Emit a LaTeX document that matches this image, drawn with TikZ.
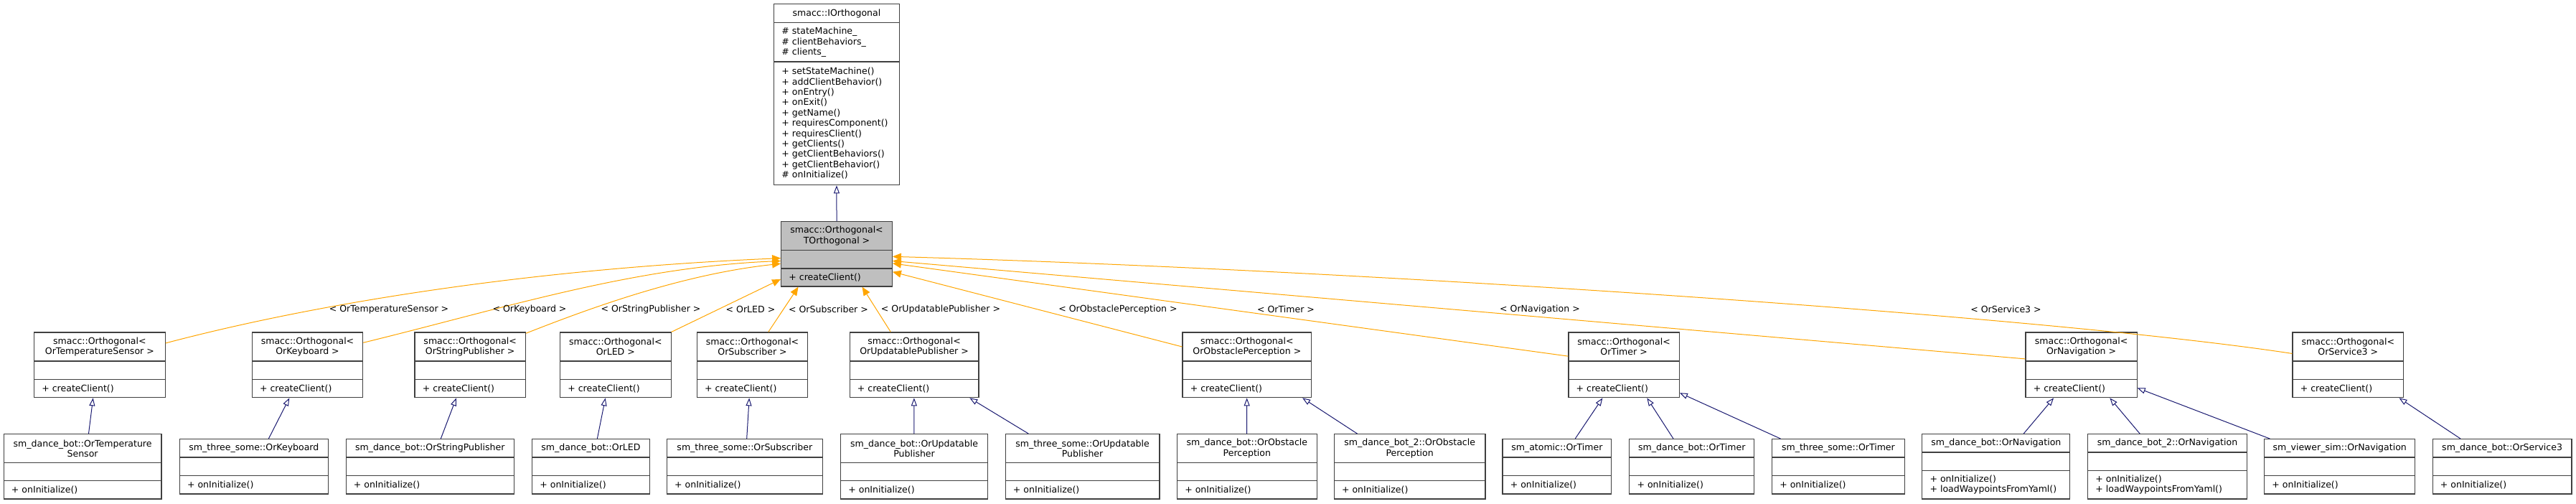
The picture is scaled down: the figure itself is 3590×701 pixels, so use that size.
\documentclass[tikz,border=0pt]{standalone}
\usepackage{fontspec}
\setmainfont{DejaVu Sans}
\usetikzlibrary{arrows.meta,fit,calc}

\definecolor{edgeorange}{RGB}{255,165,0}
\definecolor{inheritblue}{RGB}{25,25,112}
\definecolor{boxgray}{RGB}{64,64,64}
\definecolor{tfill}{RGB}{191,191,191}

% #1 name, #2 left, #3 right, #4 top, #5-#7 compartment heights, #8 title, #9 operations
\newcommand{\classbox}[9]{%
  \node[classnode, fit={(#2,#4) (#3,#4+#5+#6+#7)}] (#1) {};
  \draw[classline] (#2,#4+#5) -- (#3,#4+#5);
  \draw[classline] (#2,#4+#5+#6) -- (#3,#4+#5+#6);
  \node[classtext, align=center] (#1-t) at ({(#2+#3)/2},{#4+#5/2}) {#8};
  \node[classtext, align=left, anchor=west] (#1-o) at (#2+10.5,{#4+#5+#6+#7/2}) {#9};
}

\begin{document}
\begin{tikzpicture}[x=0.75pt,y=0.75pt,yscale=-1,xscale=1,
  classnode/.style={draw=boxgray, line width=0.9pt, inner sep=0pt},
  classline/.style={draw=boxgray, line width=0.9pt},
  classtext/.style={inner sep=0pt, font=\fontsize{9.4}{10.8}\selectfont},
  usage/.style={draw=edgeorange, line width=0.75pt, -{Triangle[length=9pt,width=7.5pt]}},
  inherit/.style={draw=inheritblue, line width=0.75pt, -{Triangle[open,length=8.25pt,width=6pt]}},
  edgelabel/.style={inner sep=0pt, font=\fontsize{9.4}{10.8}\selectfont}]
\useasboundingbox (0,0) rectangle (3590,701);

%Shape: base classes
\classbox{iorth}{1078.7}{1253.2}{5.7}{26}{54.3}{171.7}{smacc::IOrthogonal}{+ setStateMachine()\\ + addClientBehavior()\\ + onEntry()\\ + onExit()\\ + getName()\\ + requiresComponent()\\ + requiresClient()\\ + getClients()\\ + getClientBehaviors()\\ + getClientBehavior()\\ \# onInitialize()}
\node[classtext, align=left, anchor=west] (iorth-a) at (1089.2,58.85) {\# stateMachine\_\\ \# clientBehaviors\_\\ \# clients\_};
\fill[tfill] (1088.7,308.7) rectangle (1243.3,399);
\classbox{torth}{1088.7}{1243.3}{308.7}{40}{25.3}{25}{smacc::Orthogonal<\\ TOrthogonal >}{+ createClient()}

%Shape: template instances
\classbox{ots}{47.6}{230.2}{463}{40}{25.7}{25}{smacc::Orthogonal<\\ OrTemperatureSensor >}{+ createClient()}
\classbox{okb}{351.3}{505.7}{463}{40}{25.7}{25}{smacc::Orthogonal<\\ OrKeyboard >}{+ createClient()}
\classbox{osp}{578}{732.4}{463}{40}{25.7}{25}{smacc::Orthogonal<\\ OrStringPublisher >}{+ createClient()}
\classbox{oled}{780.6}{935.1}{463}{40}{25.7}{25}{smacc::Orthogonal<\\ OrLED >}{+ createClient()}
\classbox{osub}{971.3}{1125.7}{463}{40}{25.7}{25}{smacc::Orthogonal<\\ OrSubscriber >}{+ createClient()}
\classbox{oup}{1184.2}{1363.9}{463}{40}{25.7}{25}{smacc::Orthogonal<\\ OrUpdatablePublisher >}{+ createClient()}
\classbox{oop}{1648}{1827.7}{463}{40}{25.7}{25}{smacc::Orthogonal<\\ OrObstaclePerception >}{+ createClient()}
\classbox{otm}{2185.9}{2340.3}{463}{40}{25.7}{25}{smacc::Orthogonal<\\ OrTimer >}{+ createClient()}
\classbox{onv}{2823}{2978.1}{463}{40}{25.7}{25}{smacc::Orthogonal<\\ OrNavigation >}{+ createClient()}
\classbox{os3}{3195}{3349.5}{463}{40}{25.7}{25}{smacc::Orthogonal<\\ OrService3 >}{+ createClient()}

%Shape: derived orthogonals
\classbox{bots}{5.2}{225}{604.7}{40}{25}{25.3}{sm\_dance\_bot::OrTemperature\\ Sensor}{+ onInitialize()}
\classbox{tskb}{250.3}{457.5}{611.7}{25.3}{25.7}{25.3}{sm\_three\_some::OrKeyboard}{+ onInitialize()}
\classbox{bosp}{482.1}{716.3}{611.7}{25.3}{25.7}{25.3}{sm\_dance\_bot::OrStringPublisher}{+ onInitialize()}
\classbox{bled}{741.6}{905.3}{611.7}{25.3}{25.7}{25.3}{sm\_dance\_bot::OrLED}{+ onInitialize()}
\classbox{tssub}{929.4}{1146.3}{611.7}{25.3}{25.7}{25.3}{sm\_three\_some::OrSubscriber}{+ onInitialize()}
\classbox{boup}{1171.6}{1376.5}{604.7}{40}{25}{25.3}{sm\_dance\_bot::OrUpdatable\\ Publisher}{+ onInitialize()}
\classbox{tsoup}{1401.2}{1615.9}{604.7}{40}{25}{25.3}{sm\_three\_some::OrUpdatable\\ Publisher}{+ onInitialize()}
\classbox{boop}{1640.5}{1835.2}{604.7}{40}{25}{25.3}{sm\_dance\_bot::OrObstacle\\ Perception}{+ onInitialize()}
\classbox{btoop}{1859.3}{2070}{604.7}{40}{25}{25.3}{sm\_dance\_bot\_2::OrObstacle\\ Perception}{+ onInitialize()}
\classbox{atm}{2094}{2245.6}{611.7}{25.3}{25.7}{25.3}{sm\_atomic::OrTimer}{+ onInitialize()}
\classbox{btm}{2270.8}{2444.8}{611.7}{25.3}{25.7}{25.3}{sm\_dance\_bot::OrTimer}{+ onInitialize()}
\classbox{tstm}{2469.5}{2654.3}{611.7}{25.3}{25.7}{25.3}{sm\_three\_some::OrTimer}{+ onInitialize()}
\classbox{bnv}{2678.8}{2884.8}{604.7}{25.3}{25.3}{39.7}{sm\_dance\_bot::OrNavigation}{+ onInitialize()\\ + loadWaypointsFromYaml()}
\classbox{btnv}{2909.6}{3131.4}{604.7}{25.3}{25.3}{39.7}{sm\_dance\_bot\_2::OrNavigation}{+ onInitialize()\\ + loadWaypointsFromYaml()}
\classbox{vsnv}{3155.6}{3365.8}{611.7}{25.3}{25.7}{25.3}{sm\_viewer\_sim::OrNavigation}{+ onInitialize()}
\classbox{bos3}{3390.1}{3584}{611.7}{25.3}{25.7}{25.3}{sm\_dance\_bot::OrService3}{+ onInitialize()}

%Straight Lines: inheritance
\draw[inherit] (torth.north) -- (iorth.south);
\draw[inherit] ($(bots.north west)!0.538!(bots.north east)$) -- ($(ots.south west)!0.45!(ots.south east)$);
\draw[inherit] ($(tskb.north west)!0.598!(tskb.north east)$) -- ($(okb.south west)!0.338!(okb.south east)$);
\draw[inherit] ($(bosp.north west)!0.564!(bosp.north east)$) -- ($(osp.south west)!0.376!(osp.south east)$);
\draw[inherit] ($(bled.north west)!0.554!(bled.north east)$) -- ($(oled.south west)!0.409!(oled.south east)$);
\draw[inherit] ($(tssub.north west)!0.513!(tssub.north east)$) -- ($(osub.south west)!0.472!(osub.south east)$);
\draw[inherit] ($(boup.north west)!0.499!(boup.north east)$) -- ($(oup.south west)!0.499!(oup.south east)$);
\draw[inherit] ($(tsoup.north west)!0.152!(tsoup.north east)$) -- ($(oup.south west)!0.927!(oup.south east)$);
\draw[inherit] ($(boop.north west)!0.499!(boop.north east)$) -- ($(oop.south west)!0.499!(oop.south east)$);
\draw[inherit] ($(btoop.north west)!0.155!(btoop.north east)$) -- ($(oop.south west)!0.927!(oop.south east)$);
\draw[inherit] ($(atm.north west)!0.666!(atm.north east)$) -- ($(otm.south west)!0.309!(otm.south east)$);
\draw[inherit] ($(btm.north west)!0.353!(btm.north east)$) -- ($(otm.south west)!0.707!(otm.south east)$);
\draw[inherit] ($(tstm.north west)!0.068!(tstm.north east)$) -- ($(otm.north east)!0.923!(otm.south east)$);
\draw[inherit] ($(bnv.north west)!0.685!(bnv.north east)$) -- ($(onv.south west)!0.254!(onv.south east)$);
\draw[inherit] ($(btnv.north west)!0.328!(btnv.north east)$) -- ($(onv.south west)!0.754!(onv.south east)$);
\draw[inherit] ($(vsnv.north west)!0.04!(vsnv.north east)$) -- ($(onv.north east)!0.849!(onv.south east)$);
\draw[inherit] ($(bos3.north west)!0.203!(bos3.north east)$) -- ($(os3.south west)!0.957!(os3.south east)$);

%Curve Lines: template arguments
\draw[usage] ($(ots.north east)!0.169!(ots.south east)$) .. controls (450,420) and (750,374) .. ($(torth.north west)!0.563!(torth.south west)$);
\draw[usage] ($(okb.north east)!0.162!(okb.south east)$) .. controls (700,430) and (880,372) .. ($(torth.north west)!0.605!(torth.south west)$);
\draw[usage] ($(osp.north east)!0.02!(osp.south east)$) .. controls (820,430) and (950,382) .. ($(torth.north west)!0.646!(torth.south west)$);
\draw[usage] (oled.north east) -- ($(torth.north west)!0.883!(torth.south west)$);
\draw[usage] ($(osub.north west)!0.643!(osub.north east)$) -- ($(torth.south west)!0.157!(torth.south east)$);
\draw[usage] ($(oup.north west)!0.319!(oup.north east)$) -- ($(torth.south west)!0.728!(torth.south east)$);
\draw[usage] ($(oop.north west)!0.224!(oop.south west)$) -- ($(torth.north east)!0.771!(torth.south east)$);
\draw[usage] ($(otm.north west)!0.367!(otm.south west)$) -- ($(torth.north east)!0.642!(torth.south east)$);
\draw[usage] ($(onv.north west)!0.408!(onv.south west)$) -- ($(torth.north east)!0.605!(torth.south east)$);
\draw[usage] ($(os3.north west)!0.327!(os3.south west)$) .. controls (2850,440) and (1900,376) .. ($(torth.north east)!0.538!(torth.south east)$);

% Text Node
\draw (542,430.7) node [edgelabel] (lots) {< OrTemperatureSensor >};
\draw (738,430.7) node [edgelabel] (lokb) {< OrKeyboard >};
\draw (907,430.7) node [edgelabel] (losp) {< OrStringPublisher >};
\draw (1046,430.7) node [edgelabel] (lled) {< OrLED >};
\draw (1154.5,430.7) node [edgelabel] (lsub) {< OrSubscriber >};
\draw (1311,430.7) node [edgelabel] (lup) {< OrUpdatablePublisher >};
\draw (1558,430.7) node [edgelabel] (lop) {< OrObstaclePerception >};
\draw (1792,430.7) node [edgelabel] (ltm) {< OrTimer >};
\draw (2146,430.7) node [edgelabel] (lnv) {< OrNavigation >};
\draw (2795.5,430.7) node [edgelabel] (ls3) {< OrService3 >};
\end{tikzpicture}
\end{document}
